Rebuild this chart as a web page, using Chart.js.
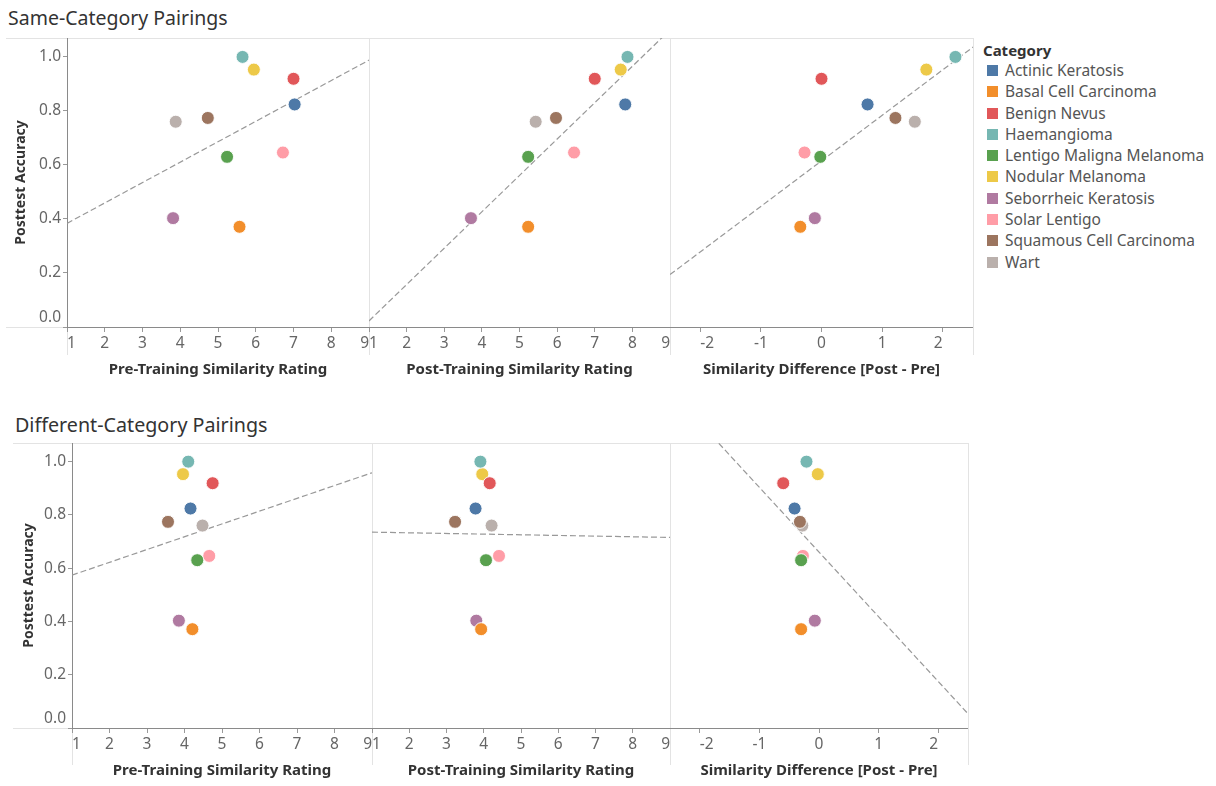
<!DOCTYPE html>
<html><head><meta charset="utf-8">
<script src="https://cdn.jsdelivr.net/npm/chart.js@4/dist/chart.umd.min.js"></script>
<style>
html,body{margin:0;padding:0;background:#fff}
body{width:1216px;height:786px;overflow:hidden;position:relative;font-family:"Noto Sans",sans-serif}
canvas{position:absolute}
.ln{position:absolute;background:#e3e3e3}
.title{position:absolute;color:#333;line-height:22px;white-space:nowrap}
#legend{position:absolute;left:983px;top:40px}
#legend .hd{font-size:15px;font-weight:bold;color:#333;line-height:20px;height:20px}
#legend .it{position:relative;height:21.3px;line-height:21.3px;font-size:15.5px;color:#555;padding-left:22px;white-space:nowrap}
#legend .sw{position:absolute;left:4px;top:5px;width:11px;height:11px}
</style></head><body>
<div class="title" style="left:8px;top:7px;font-size:19.5px">Same-Category Pairings</div>
<div class="title" style="left:15px;top:414px;font-size:19.7px">Different-Category Pairings</div>
<div id="legend"></div>
<script>
// ---- data ----
const categories = ["Actinic Keratosis","Basal Cell Carcinoma","Benign Nevus","Haemangioma","Lentigo Maligna Melanoma","Nodular Melanoma","Seborrheic Keratosis","Solar Lentigo","Squamous Cell Carcinoma","Wart"];
const colors = ["#4e79a7","#f28e2b","#e15759","#76b7b2","#59a14f","#edc948","#b07aa1","#ff9da7","#9c755f","#bab0ac"];
const posttestAccuracy = [0.824, 0.371, 0.919, 1.0, 0.63, 0.953, 0.403, 0.646, 0.774, 0.76];
// Same-category pairings
const samePre  = [7.03, 5.57, 7.00, 5.65, 5.24, 5.95, 3.81, 6.72, 4.73, 3.88];
const samePost = [7.81, 5.23, 7.00, 7.87, 5.23, 7.69, 3.71, 6.45, 5.97, 5.43];
const sameDiff = [0.76, -0.35, 0.00, 2.21, -0.02, 1.73, -0.11, -0.28, 1.22, 1.54];
// Different-category pairings
const diffPre  = [4.16, 4.21, 4.75, 4.10, 4.34, 3.96, 3.85, 4.66, 3.56, 4.48];
const diffPost = [3.78, 3.93, 4.16, 3.91, 4.06, 3.96, 3.80, 4.41, 3.23, 4.21];
const diffDiff = [-0.41, -0.30, -0.60, -0.21, -0.30, -0.02, -0.07, -0.27, -0.32, -0.28];
// tick labels
const ratingTicks = [1,2,3,4,5,6,7,8,9];
const diffTicks = [-2,-1,0,1,2];
const accuracyTicks = [0,0.2,0.4,0.6,0.8,1.0];
const xTitles = ["Pre-Training Similarity Rating","Post-Training Similarity Rating","Similarity Difference [Post - Pre]"];
const yTitle = "Posttest Accuracy";

// ---- legend ----
const lg = document.getElementById('legend');
lg.innerHTML = '<div class="hd">Category</div>' + categories.map((c,i)=>
  `<div class="it"><span class="sw" style="background:${colors[i]}"></span>${c}</div>`).join('');

// ---- layout ----
const FONT = '"Noto Sans", sans-serif';
const rows = [
  {top:38, bottom:327, xs:[67,369,670,973], lineLeft:6, ext:355, yTitlePad:14, series:[samePre,samePost,sameDiff]},
  {top:443, bottom:728, xs:[72,372,670,968], lineLeft:13, ext:765, yTitlePad:22, series:[diffPre,diffPost,diffDiff]}
];
const TOPPAD = 10, XH = 56;

function addLine(l,t,w,h,c){const d=document.createElement('div');d.className='ln';d.style.cssText=`left:${l}px;top:${t}px;width:${w}px;height:${h}px`+(c?`;background:${c}`:'');document.body.appendChild(d);}

function linReg(xs, ys){
  const n=xs.length; const mx=xs.reduce((a,b)=>a+b,0)/n; const my=ys.reduce((a,b)=>a+b,0)/n;
  let sxy=0,sxx=0; for(let i=0;i<n;i++){sxy+=(xs[i]-mx)*(ys[i]-my); sxx+=(xs[i]-mx)**2;}
  const b=sxy/sxx; return {a:my-b*mx, b};
}

rows.forEach((row)=>{
  const H = row.bottom-row.top;
  addLine(row.lineLeft, row.top, row.xs[3]-row.lineLeft+1, 1);
  addLine(row.lineLeft, row.bottom, row.xs[0]-row.lineLeft, 1);
  addLine(row.xs[0], row.bottom, 1, row.ext-row.bottom);
  [1,2,3].forEach(k=>addLine(row.xs[k], row.top, 1, row.ext-row.top));
  for(let p=0;p<3;p++){
    const left = p===0 ? 0 : row.xs[p];
    const width = row.xs[p+1]-left;
    const cv = document.createElement('canvas');
    const ch = TOPPAD + H + XH;
    cv.width = width; cv.height = ch;
    cv.style.left = left+'px'; cv.style.top = (row.top-TOPPAD)+'px';
    cv.style.width = width+'px'; cv.style.height = ch+'px';
    document.body.appendChild(cv);
    const xv = row.series[p];
    const isDiff = p===2;
    const xmin = isDiff ? -2.5 : 1, xmax = isDiff ? 2.5 : 9;
    const ticksArr = isDiff ? diffTicks : ratingTicks;
    const reg = linReg(xv, posttestAccuracy);
    const datasets = categories.map((c,i)=>({
      label:c, data:[{x:xv[i], y:posttestAccuracy[i]}],
      backgroundColor:colors[i], borderColor:'rgba(255,255,255,0.9)', borderWidth:1,
      pointRadius:6.5, order:0
    }));
    datasets.push({label:'trend', data:[{x:xmin,y:reg.a+reg.b*xmin},{x:xmax,y:reg.a+reg.b*xmax}],
      showLine:true, pointRadius:0, borderColor:'#999', borderWidth:1.2, borderDash:[6,3], order:1});
    const yScale = p===0 ? {
      type:'linear', min:0, max:1.07,
      afterBuildTicks:s=>{s.ticks=accuracyTicks.map(v=>({value:v}));},
      afterFit:s=>{s.width=row.xs[0]; s.paddingTop=0; s.paddingBottom=0;},
      ticks:{color:'#666', font:{size:15.5, family:FONT}, padding:2, callback:v=> v===0 ? ['0.0',''] : Number(v).toFixed(1)},
      grid:{drawOnChartArea:false, drawTicks:true, tickLength:4, color:'#999'},
      border:{display:true, color:'#8a8a8a', width:1},
      title:{display:true, text:yTitle, color:'#333', font:{size:14, weight:'bold', family:FONT}, padding:{top:row.yTitlePad-1, bottom:0}}
    } : {type:'linear', min:0, max:1.07, display:false};
    new Chart(cv, {
      type:'scatter',
      data:{datasets},
      options:{
        responsive:false, animation:false, events:[],
        layout:{autoPadding:false, padding:{top:TOPPAD, left:0, right:0, bottom:0}},
        plugins:{legend:{display:false}, tooltip:{enabled:false}},
        scales:{
          x:{type:'linear', min:xmin, max:xmax,
            afterBuildTicks:s=>{s.ticks=ticksArr.map(v=>({value:v}));},
            afterFit:s=>{s.height=XH; s.paddingLeft=0; s.paddingRight=0;},
            ticks:{align:'inner', color:'#666', font:{size:15.5, family:FONT}, padding:2, maxRotation:0, autoSkip:false, callback:v=>String(v)},
            grid:{drawOnChartArea:false, drawTicks:true, tickLength:5, color:'#999'},
            border:{display:true, color:'#8a8a8a', width:1},
            title:{display:true, text:xTitles[p], color:'#333', font:{size:15, weight:'bold', family:FONT}, padding:{top:4, bottom:4}}
          },
          y:yScale
        }
      }
    });
  }
});
</script>
</body></html>
